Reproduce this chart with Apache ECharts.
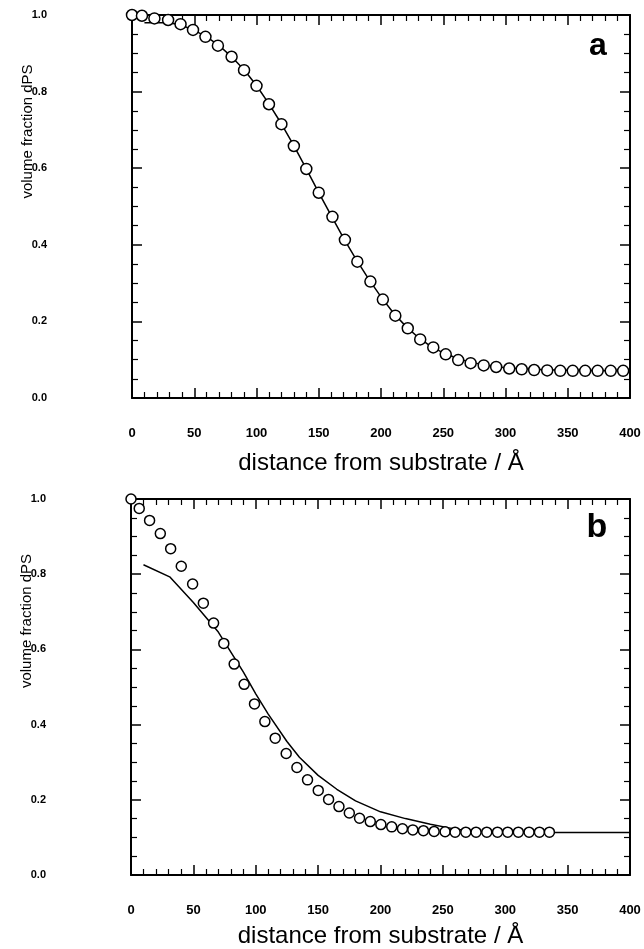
<!DOCTYPE html>
<html>
<head>
<meta charset="utf-8">
<script src="https://cdn.jsdelivr.net/npm/echarts@6/dist/echarts.min.js"></script>
<style>
html,body{margin:0;padding:0;background:#fff;}
#c{width:644px;height:949px;}
</style>
</head>
<body>
<div id="c"></div>
<script>
// Panel a: measured points (circles) and fitted profile (line)
const aPointsX = [0, 8, 18, 29, 39, 49, 59, 69, 80, 90, 100, 110, 120, 130, 140, 150, 161, 171, 181, 191.5, 201.5, 211.5, 221.5, 231.5, 242, 252, 262, 272, 282.5, 292.5, 303, 313, 323, 333.5, 344, 354, 364, 374, 384.5, 394.5];
const aPointsY = [1.0, 0.998, 0.991, 0.987, 0.976, 0.961, 0.943, 0.920, 0.891, 0.856, 0.815, 0.767, 0.715, 0.658, 0.598, 0.536, 0.473, 0.413, 0.356, 0.304, 0.257, 0.215, 0.182, 0.153, 0.132, 0.114, 0.099, 0.091, 0.085, 0.081, 0.077, 0.075, 0.073, 0.072, 0.071, 0.071, 0.071, 0.071, 0.071, 0.071];
const aLineX = [10, 30, 40, 50, 60, 70, 80, 90, 100, 110, 120, 130, 140, 150, 160, 170, 180, 190, 200, 210, 220, 230, 240, 250, 260, 270, 280, 290, 300, 320, 340, 360, 380, 400];
const aLineY = [0.980, 0.980, 0.973, 0.960, 0.943, 0.920, 0.891, 0.857, 0.816, 0.768, 0.716, 0.659, 0.598, 0.536, 0.476, 0.417, 0.362, 0.311, 0.264, 0.222, 0.187, 0.158, 0.135, 0.118, 0.105, 0.095, 0.088, 0.083, 0.079, 0.075, 0.073, 0.072, 0.071, 0.071];

// Panel b
const bPointsX = [0, 6.6, 14.9, 23.5, 31.8, 40.3, 49.4, 58, 66.2, 74.4, 82.7, 90.7, 99, 107.3, 115.6, 124.4, 133, 141.5, 150.1, 158.4, 166.7, 175, 183.2, 191.8, 200.3, 209, 217.6, 225.9, 234.4, 243, 251.8, 259.8, 268.4, 276.6, 285.2, 293.8, 302, 310.5, 319.1, 327.4, 335.4];
const bPointsY = [1.0, 0.975, 0.943, 0.908, 0.868, 0.821, 0.774, 0.723, 0.670, 0.616, 0.561, 0.507, 0.455, 0.408, 0.364, 0.323, 0.286, 0.253, 0.225, 0.201, 0.182, 0.165, 0.151, 0.142, 0.134, 0.128, 0.123, 0.120, 0.118, 0.116, 0.115, 0.114, 0.114, 0.114, 0.114, 0.114, 0.114, 0.114, 0.114, 0.114, 0.114];
const bLineX = [10, 31, 50, 70, 90, 100, 110, 125, 135, 150, 165, 180, 200, 220, 240, 260, 280, 340, 400];
const bLineY = [0.825, 0.793, 0.725, 0.646, 0.540, 0.482, 0.428, 0.355, 0.313, 0.265, 0.228, 0.197, 0.168, 0.150, 0.135, 0.122, 0.116, 0.113, 0.113];

const xTicks = [0, 50, 100, 150, 200, 250, 300, 350, 400];
const yTicks = [0.0, 0.2, 0.4, 0.6, 0.8, 1.0];
const panelLabels = ['a', 'b'];
const xName = 'distance from substrate / Å';
const yName = 'volume fraction dPS';

const FONT = '"Liberation Sans", Arial, Helvetica, sans-serif';
const zip = (xs, ys) => xs.map((x, i) => [x, ys[i]]);

const grids = [
  {left: 132, right: 14, top: 15, height: 383},
  {left: 131, right: 14, top: 499, height: 379}
];
const yNamePad = [150, 132];

const xAxes = [], yAxes = [], series = [];
grids.forEach((g, gi) => {
  const tick = {show: true, inside: true, length: 10, lineStyle: {color: '#000', width: 1.5}};
  const minor = {show: true, splitNumber: 5, length: 6, lineStyle: {color: '#000', width: 1.2}};
  const line = {show: true, onZero: false, lineStyle: {color: '#000', width: 2}};
  xAxes.push({
    type: 'value', gridIndex: gi, position: 'bottom',
    min: xTicks[0], max: xTicks[xTicks.length - 1], interval: xTicks[1] - xTicks[0],
    axisLine: line, axisTick: tick, minorTick: minor, splitLine: {show: false},
    axisLabel: {show: true, margin: 29, color: '#000', fontFamily: FONT, fontSize: 13, fontWeight: 'bold'},
    name: xName, nameLocation: 'middle', nameGap: gi === 0 ? 53 : 49, nameMoveOverlap: false,
    nameTextStyle: {color: '#000', fontFamily: FONT, fontSize: 24}
  });
  xAxes.push({
    type: 'value', gridIndex: gi, position: 'top',
    min: xTicks[0], max: xTicks[xTicks.length - 1], interval: xTicks[1] - xTicks[0],
    axisLine: line, axisTick: tick, minorTick: minor, splitLine: {show: false},
    axisLabel: {show: false}
  });
  yAxes.push({
    type: 'value', gridIndex: gi, position: 'left',
    min: yTicks[0], max: yTicks[yTicks.length - 1], interval: 0.2,
    axisLine: line, axisTick: tick, minorTick: Object.assign({}, minor, {splitNumber: 4}), splitLine: {show: false},
    axisLabel: {show: true, margin: 85, color: '#000', fontFamily: FONT, fontSize: 11, fontWeight: 'bold',
      formatter: v => v.toFixed(1)},
    name: yName, nameLocation: 'middle', nameGap: 97, nameMoveOverlap: false,
    nameTextStyle: {color: '#000', fontFamily: FONT, fontSize: 15, padding: [0, 0, 0, yNamePad[gi]]}
  });
  yAxes.push({
    type: 'value', gridIndex: gi, position: 'right',
    min: yTicks[0], max: yTicks[yTicks.length - 1], interval: 0.2,
    axisLine: line, axisTick: tick, minorTick: Object.assign({}, minor, {splitNumber: 4}), splitLine: {show: false},
    axisLabel: {show: false}
  });
});

series.push({
  type: 'line', xAxisIndex: 0, yAxisIndex: 0, data: zip(aLineX, aLineY),
  showSymbol: false, lineStyle: {color: '#000', width: 1.5}, z: 2, silent: true
});
series.push({
  type: 'scatter', xAxisIndex: 0, yAxisIndex: 0, data: zip(aPointsX, aPointsY),
  symbol: 'circle', symbolSize: 11, clip: false,
  itemStyle: {color: '#fff', borderColor: '#000', borderWidth: 1.5, opacity: 1}, z: 3
});
series.push({
  type: 'line', xAxisIndex: 2, yAxisIndex: 2, data: zip(bLineX, bLineY),
  showSymbol: false, lineStyle: {color: '#000', width: 1.5}, z: 2, silent: true
});
series.push({
  type: 'scatter', xAxisIndex: 2, yAxisIndex: 2, data: zip(bPointsX, bPointsY),
  symbol: 'circle', symbolSize: 10, clip: false,
  itemStyle: {color: '#fff', borderColor: '#000', borderWidth: 1.5, opacity: 1}, z: 3
});

const chart = echarts.init(document.getElementById('c'), null, {renderer: 'canvas'});
chart.setOption({
  animation: false,
  backgroundColor: '#fff',
  grid: grids,
  xAxis: xAxes,
  yAxis: yAxes,
  series: series,
  graphic: [
    {type: 'text', x: 598, y: 46, style: {text: panelLabels[0], font: 'bold 32px ' + FONT, fill: '#000', textAlign: 'center', textVerticalAlign: 'middle'}},
    {type: 'text', x: 597, y: 528, style: {text: panelLabels[1], font: 'bold 34px ' + FONT, fill: '#000', textAlign: 'center', textVerticalAlign: 'middle'}}
  ]
});
</script>
</body>
</html>
